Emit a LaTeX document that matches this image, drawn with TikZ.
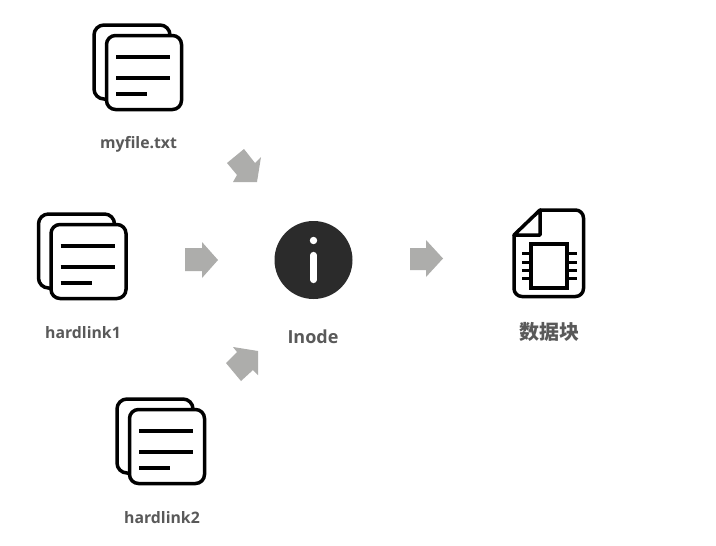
\documentclass[tikz,border=0pt]{standalone}
\usepackage{fontspec}
\setmainfont{Open Sans}
\newfontfamily\cjkfont{Noto Sans CJK SC}
\definecolor{labelgray}{HTML}{595959}
\definecolor{arrowgray}{HTML}{ADADAB}
\definecolor{discdark}{HTML}{2B2B2B}
\tikzset{
  iconline/.style={draw=black,line width=3.5pt,line cap=round,line join=round},
  fileline/.style={draw=black,line width=3.5pt},
  blockarrow/.style={fill=arrowgray,draw=none},
  lbl/.style={text=labelgray,font=\bfseries,inner sep=0pt},
  pics/fileicon/.style={code={
    \draw[iconline,rounded corners=10pt] (170,35) -- (170,25) -- (94,25) -- (94,99) -- (106,99);
    \draw[iconline,rounded corners=9pt,fill=white] (106.5,35.5) rectangle (181.5,109.5);
    \draw[fileline] (116,57) -- (170,57);
    \draw[fileline] (116,78) -- (170,78);
    \draw[fileline] (116,94) -- (147,94);
  }}
}
\begin{document}
\begin{tikzpicture}[x=1pt,y=-1pt]
\useasboundingbox (0,0) rectangle (716,546);
\fill[white] (0,0) rectangle (716,546);
% file icons
\pic at (0,0) {fileicon};
\pic at (-55.5,189) {fileicon};
\pic at (23,374) {fileicon};
% labels
\node[lbl,font=\bfseries\fontsize{15.8pt}{18pt}\selectfont] (myfile) at (138.5,144) {myfile.txt};
\node[lbl,font=\bfseries\fontsize{15.8pt}{18pt}\selectfont] (hl1) at (83,332.5) {hardlink1};
\node[lbl,font=\bfseries\fontsize{15.8pt}{18pt}\selectfont] (hl2) at (162,517.5) {hardlink2};
\node[lbl,font=\bfseries\fontsize{18pt}{20pt}\selectfont] (inodelbl) at (313,336.5) {Inode};
\node[lbl,font=\cjkfont\bfseries\fontsize{20pt}{22pt}\selectfont] (blocklbl) at (549,332) {数据块};
% inode disc
\node[circle,fill=discdark,minimum size=78pt,inner sep=0pt] (inode) at (313.5,260) {};
\fill[white] (inode.center) ++(0,-19.5) circle (3.7pt);
\draw[white,line width=6.2pt,line cap=round] (313.5,255) -- (313.5,280);
% block arrows
\fill[blockarrow] (185,248) -- (202,248) -- (202,242) -- (218,260) -- (202,278) -- (202,271) -- (185,271) -- cycle;
\fill[blockarrow] (410,248) -- (426,248) -- (426,240) -- (443,258.5) -- (426,277) -- (426,270) -- (410,270) -- cycle;
\fill[blockarrow] (244,149) -- (227,163) -- (237,175) -- (233,182) -- (257,182) -- (261,157) -- (255,163) -- cycle;
\fill[blockarrow] (258,351) -- (233,347) -- (237,352) -- (226,363) -- (241,381) -- (253,370) -- (258,375) -- cycle;
% data block icon
\draw[iconline,rounded corners=8pt] (540,210) -- (583.5,210) -- (583.5,296.5) -- (514,296.5) -- (514,235);
\draw[iconline] (514,235) -- (540,210) -- (540,235) -- cycle;
\draw[iconline,line join=miter] (531,244) rectangle (567,288);
\foreach \py in {253,262,270,278}{
  \draw[draw=black,line width=3pt] (522,\py) -- (531,\py);
  \draw[draw=black,line width=3pt] (567,\py) -- (577,\py);
}
\end{tikzpicture}
\end{document}
